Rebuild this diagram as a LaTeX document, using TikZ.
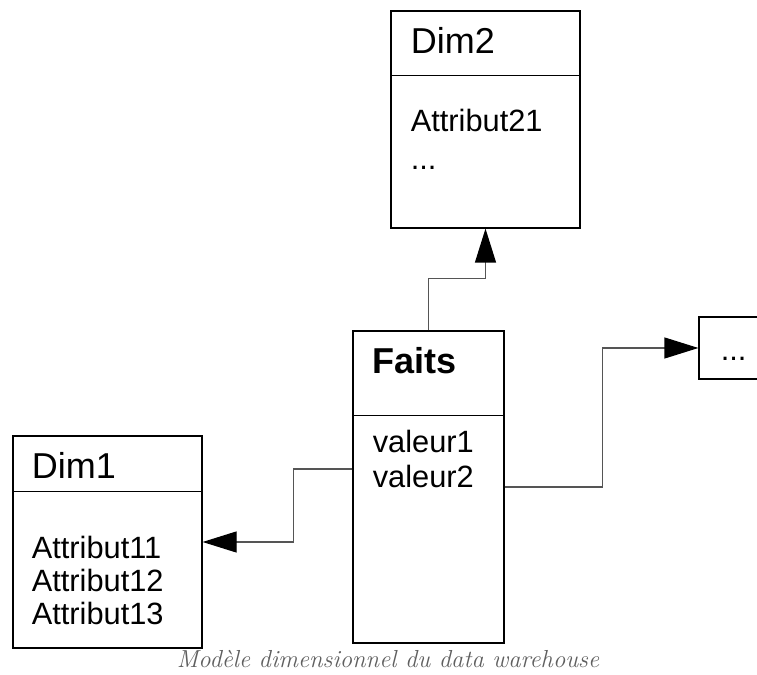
\documentclass[tikz,border=0pt]{standalone}
\usepackage{fontspec}
\newfontfamily\arialfont{Liberation Sans}
\usetikzlibrary{arrows.meta,positioning}
\definecolor{linkgray}{RGB}{85,85,85}
\definecolor{captiongray}{RGB}{95,95,95}
\tikzset{
  classbox/.style={draw=black, line width=0.6pt, rectangle, inner sep=0pt},
  classname/.style={anchor=base west, inner sep=0pt, font=\arialfont\fontsize{18}{21}\selectfont},
  attrs/.style={anchor=base west, inner sep=0pt, font=\arialfont\fontsize{15.4}{17}\selectfont},
  link/.style={draw=linkgray, line width=0.6pt, -{Triangle[length=17pt,width=10.5pt,black]}}
}
\begin{document}
\begin{tikzpicture}[x=0.5pt,y=0.5pt,on grid]
   \useasboundingbox (0,0) rectangle (757,675);
   % boxes
   \node[classbox, minimum width=75.5pt, minimum height=156pt] (faits) at (428.5,188) {};
   \node[classbox, minimum width=94.5pt, minimum height=108.5pt] (dim2) [above right=183.75pt and 28.5pt of faits] {};
   \node[classbox, minimum width=94.5pt, minimum height=106pt] (dim1) [below left=27.5pt and 160.5pt of faits] {};
   \node[classbox, minimum width=40pt, minimum height=31pt] (dots) [above right=69.5pt and 155.25pt of faits] {};
   % header lines
   \draw[line width=0.6pt] ([yshift=-32.5pt]dim2.north west) -- ([yshift=-32.5pt]dim2.north east);
   \draw[line width=0.6pt] ([yshift=-42.5pt]faits.north west) -- ([yshift=-42.5pt]faits.north east);
   \draw[line width=0.6pt] ([yshift=-28pt]dim1.north west) -- ([yshift=-28pt]dim1.north east);
   % texts
   \node[classname] (dim2name) at ([shift={(20,-43)}]dim2.north west) {Dim2};
   \node[attrs] (attr21) at ([shift={(20,-121)}]dim2.north west) {Attribut21};
   \node[attrs] (attr2x) at ([shift={(0,-38)}]attr21.base west) {...};
   \node[classname, font=\arialfont\bfseries\fontsize{18}{21}\selectfont] (faitsname) at ([shift={(20,-43)}]faits.north west) {Faits};
   \node[attrs] (val1) at ([shift={(20,-122)}]faits.north west) {valeur1};
   \node[attrs] (val2) at ([shift={(0,-35)}]val1.base west) {valeur2};
   \node[classname] (dim1name) at ([shift={(19,-43)}]dim1.north west) {Dim1};
   \node[attrs] (attr11) at ([shift={(19,-123)}]dim1.north west) {Attribut11};
   \node[attrs] (attr12) at ([shift={(0,-33)}]attr11.base west) {Attribut12};
   \node[attrs] (attr13) at ([shift={(0,-33)}]attr12.base west) {Attribut13};
   \node[attrs] (dotstext) at ([shift={(22,-44)}]dots.north west) {...};
   \node[font=\itshape\fontsize{12.3}{14}\selectfont, text=captiongray, anchor=base, inner sep=0pt] (caption) at (388,7) {Modèle dimensionnel du data warehouse};
   % links
   \draw[link] (faits.north) -- ++(0,52) -| (dim2.south);
   \draw[link] (faits.east) -- ++(98,0) |- (dots.west);
   \draw[link] ([yshift=9pt]faits.west) -- ++(-59,0) |- (dim1.east);
\end{tikzpicture}
\end{document}
